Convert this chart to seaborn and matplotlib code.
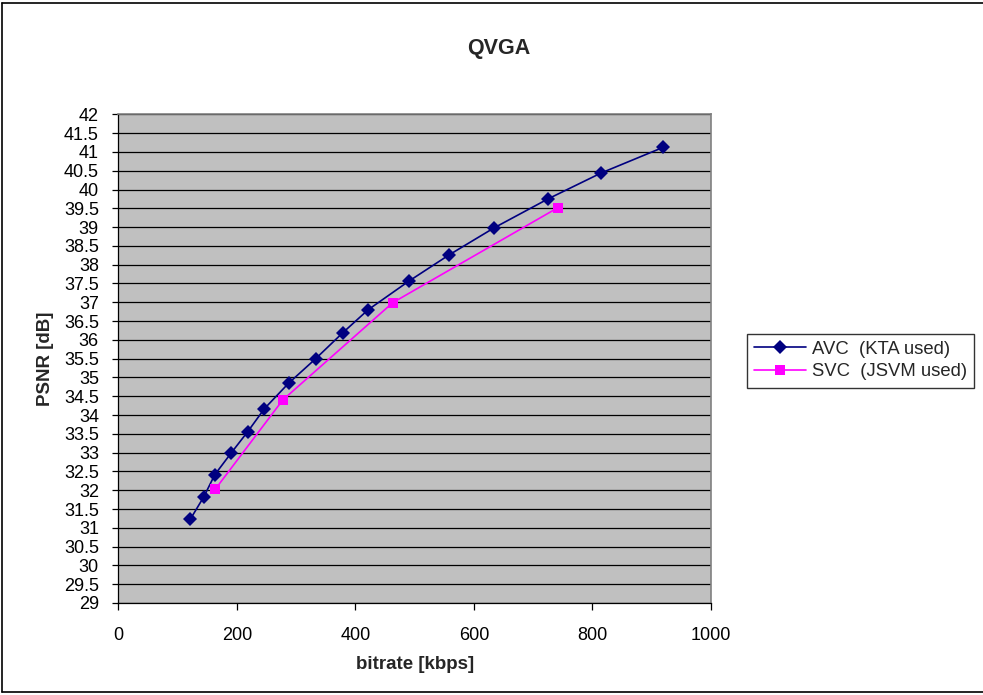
import matplotlib
matplotlib.use("Agg")
import matplotlib.pyplot as plt
from matplotlib.lines import Line2D
import seaborn as sns
import pandas as pd
import numpy as np

# values
avc_rate = [121.5, 144.4, 162.6, 190.8, 218.4, 246.5, 287.5, 333.0, 378.7, 421.4, 490.0, 558.0, 634.0, 725.0, 814.7, 919.0]
avc_psnr = [31.23, 31.83, 32.41, 33.00, 33.56, 34.17, 34.85, 35.50, 36.19, 36.80, 37.56, 38.26, 38.98, 39.75, 40.44, 41.12]
svc_rate = [163.2, 277.4, 463.0, 742.0]
svc_psnr = [32.02, 34.40, 36.99, 39.52]

avc_name = "AVC  (KTA used)"
svc_name = "SVC  (JSVM used)"

df = pd.concat([
    pd.DataFrame({"rate": avc_rate, "psnr": avc_psnr, "series": avc_name}),
    pd.DataFrame({"rate": svc_rate, "psnr": svc_psnr, "series": svc_name}),
])

sns.set_style("white")
plt.rcParams["font.family"] = ["Liberation Sans", "DejaVu Sans"]

fig = plt.figure(figsize=(9.83, 6.95), dpi=100)
ax = fig.add_axes([0.1204, 0.1324, 0.6029, 0.7031])
ax.set_facecolor("#C0C0C0")

sns.lineplot(data=df, x="rate", y="psnr", hue="series", style="series",
             palette={avc_name: "#000080", svc_name: "#FF00FF"},
             markers={avc_name: "D", svc_name: "s"}, dashes=False,
             markersize=7.2, linewidth=1.2, markeredgewidth=0, ax=ax, sort=False)

ax.set_xlim(0, 1000)
ax.set_ylim(29, 42)
ax.set_xticks(np.arange(0, 1001, 200))
ax.set_yticks(np.arange(29, 42.01, 0.5))
ax.set_yticklabels([f"{v:g}" for v in np.arange(29, 42.01, 0.5)])
ax.yaxis.grid(True, color="black", linewidth=0.9)
ax.xaxis.grid(False)
ax.set_axisbelow(True)

ax.tick_params(axis="y", left=True, direction="out", length=4, width=0.9, pad=10,
               labelsize=13, colors="black")
ax.tick_params(axis="x", bottom=True, direction="out", length=5, width=0.9, pad=12,
               labelsize=13, colors="black")
for side in ["left", "bottom"]:
    ax.spines[side].set_color("black")
    ax.spines[side].set_linewidth(0.9)
for side in ["top", "right"]:
    ax.spines[side].set_visible(True)
    ax.spines[side].set_color("#808080")
    ax.spines[side].set_linewidth(1.2)

ax.set_xlabel("bitrate [kbps]", fontsize=13.5, fontweight="bold", labelpad=9)
ax.set_ylabel("PSNR [dB]", fontsize=13.5, fontweight="bold", labelpad=7)
fig.suptitle("QVGA", x=0.507, y=0.946, fontsize=15.5, fontweight="bold")

handles, labels = ax.get_legend_handles_labels()
ax.get_legend().remove()
leg = fig.legend(handles, labels, loc="center left", bbox_to_anchor=(0.760, 0.481),
                 fontsize=13.3, frameon=True, fancybox=False, handlelength=2.8,
                 borderpad=0.4, labelspacing=0.3, handletextpad=0.3,
                 borderaxespad=0.0)
leg.get_frame().set_edgecolor("black")
leg.get_frame().set_linewidth(1.0)

# outer chart border
fig.add_artist(Line2D([0.002, 0.002], [0.004, 0.995], color="black", linewidth=1.2,
                      transform=fig.transFigure))
fig.add_artist(Line2D([0.002, 1.0], [0.995, 0.995], color="black", linewidth=1.2,
                      transform=fig.transFigure))
fig.add_artist(Line2D([0.002, 1.0], [0.004, 0.004], color="black", linewidth=1.2,
                      transform=fig.transFigure))

fig.savefig("out.png", dpi=100)
